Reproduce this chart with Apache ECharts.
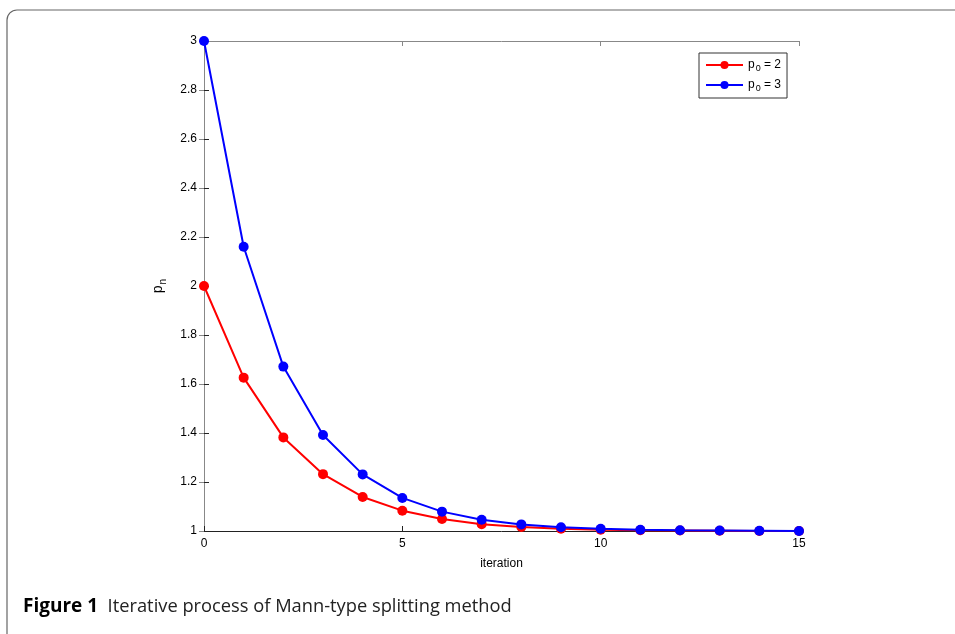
<!DOCTYPE html>
<html>
<head>
<meta charset="utf-8">
<script src="https://cdn.jsdelivr.net/npm/echarts@6/dist/echarts.min.js"></script>
<style>
  html, body { margin: 0; padding: 0; background: #fff; }
  #main { width: 955px; height: 634px; }
</style>
</head>
<body>
<div id="main"></div>
<script>
// iteration index 0..15
var iterations = [0, 1, 2, 3, 4, 5, 6, 7, 8, 9, 10, 11, 12, 13, 14, 15];
// p_n for p0 = 2 and p0 = 3
var pStart2 = [2.000, 1.626, 1.382, 1.232, 1.139, 1.083, 1.049, 1.028, 1.016, 1.009, 1.005, 1.003, 1.002, 1.001, 1.000, 1.000];
var pStart3 = [3.000, 2.160, 1.671, 1.392, 1.231, 1.135, 1.079, 1.046, 1.027, 1.015, 1.009, 1.005, 1.003, 1.002, 1.001, 1.000];
var seriesNames = ['p0 = 2', 'p0 = 3'];

function pairs(ys) {
    return iterations.map(function (x, i) { return [x, ys[i]]; });
}

var myChart = echarts.init(document.getElementById('main'));
var axisFont = 'Liberation Sans, Arial, sans-serif';

option = {
    animation: false,
    textStyle: { fontFamily: axisFont },
    grid: { left: 204, right: 156, top: 41, bottom: 103 },
    legend: {
        orient: 'vertical',
        left: 699,
        top: 53,
        padding: [6, 6, 5, 6],
        itemGap: 6,
        itemWidth: 37,
        itemHeight: 10,
        borderColor: '#333',
        borderWidth: 1,
        backgroundColor: '#fff',
        data: seriesNames,
        formatter: function (name) {
            var v = name.split('= ')[1];
            return '{a|p}{b|0}{a| = ' + v + '}';
        },
        textStyle: {
            rich: {
                a: { fontSize: 12, color: '#000', fontFamily: axisFont },
                b: { fontSize: 9, color: '#000', fontFamily: axisFont, verticalAlign: 'bottom', padding: [7, 0, 0, 1] }
            }
        }
    },
    xAxis: [{
        type: 'value',
        min: 0, max: 15, interval: 5,
        name: 'iteration',
        nameLocation: 'middle',
        nameGap: 27,
        nameTextStyle: { color: '#000', fontSize: 12 },
        axisLine: { lineStyle: { color: '#222', width: 1 } },
        axisTick: { inside: true, length: 5, lineStyle: { color: '#222' } },
        axisLabel: { color: '#000', fontSize: 12, margin: 7 },
        splitLine: { show: false }
    }, {
        type: 'value', position: 'top',
        min: 0, max: 15, interval: 5,
        axisLine: { lineStyle: { color: '#888', width: 1 } },
        axisTick: { inside: true, length: 5, lineStyle: { color: '#888' } },
        axisLabel: { show: false },
        splitLine: { show: false }
    }],
    yAxis: [{
        type: 'value',
        min: 1, max: 3, interval: 0.2,
        name: '{p|p}{n|n}',
        nameLocation: 'middle',
        nameGap: 36,
        nameRotate: 90,
        nameTextStyle: {
            rich: {
                p: { fontSize: 14, color: '#000', fontFamily: axisFont },
                n: { fontSize: 10, color: '#000', fontFamily: axisFont, padding: [9, 0, 0, 1] }
            }
        },
        axisLine: { show: true, lineStyle: { color: '#222', width: 1 } },
        axisTick: { show: true, inside: true, length: 5, lineStyle: { color: '#222' } },
        axisLabel: { color: '#000', fontSize: 12, margin: 7 },
        splitLine: { show: false }
    }, {
        type: 'value', position: 'right',
        min: 1, max: 3, interval: 0.2,
        axisLine: { show: true, lineStyle: { color: '#888', width: 1 } },
        axisTick: { show: true, inside: true, length: 5, lineStyle: { color: '#888' } },
        axisLabel: { show: false },
        splitLine: { show: false }
    }],
    series: [{
        name: seriesNames[0],
        type: 'line',
        data: pairs(pStart2),
        symbol: 'circle',
        symbolSize: 10,
        lineStyle: { color: '#ff0000', width: 2 },
        itemStyle: { color: '#ff0000' },
        z: 2
    }, {
        name: seriesNames[1],
        type: 'line',
        data: pairs(pStart3),
        symbol: 'circle',
        symbolSize: 10,
        lineStyle: { color: '#0000ff', width: 2 },
        itemStyle: { color: '#0000ff' },
        z: 3
    }],
    graphic: [{
        type: 'rect',
        shape: { x: 7, y: 10, width: 1000, height: 640, r: 10 },
        style: { fill: 'none', stroke: '#666', lineWidth: 1.2 },
        silent: true
    }, {
        type: 'text',
        left: 23,
        top: 597,
        style: {
            text: '{b|Figure 1}{t|  Iterative process of Mann-type splitting method}',
            rich: {
                b: { fontFamily: 'Open Sans', fontWeight: 'bold', fontSize: 19, fill: '#000' },
                t: { fontFamily: 'Open Sans', fontSize: 18.3, fill: '#222' }
            }
        }
    }]
};
myChart.setOption(option);
</script>
</body>
</html>
